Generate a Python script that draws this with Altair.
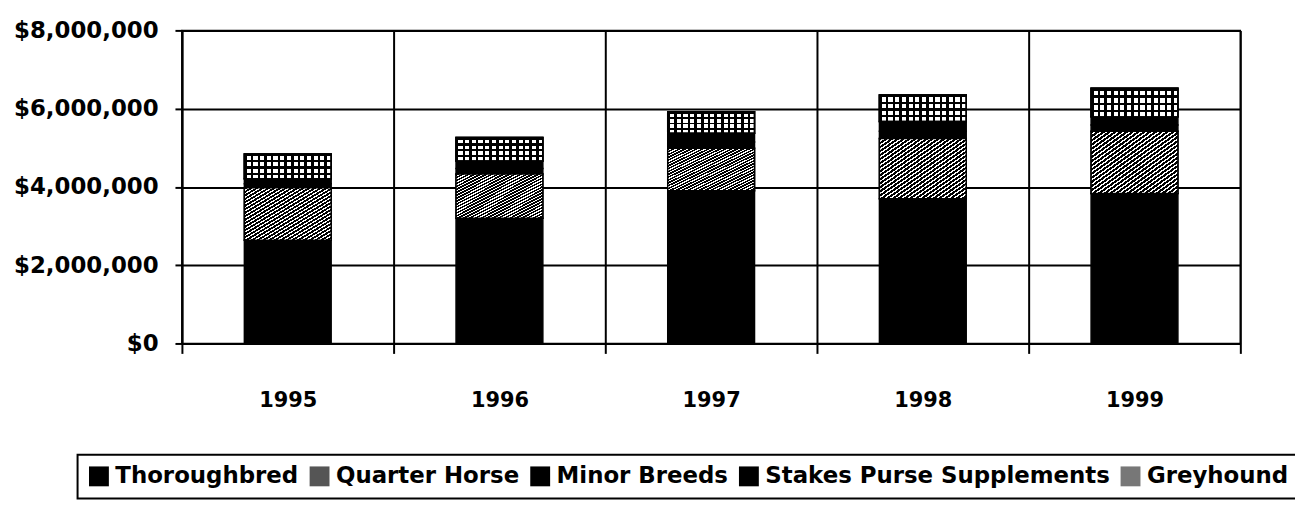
import altair as alt
import pandas as pd

years = ["1995", "1996", "1997", "1998", "1999"]
series = ["Thoroughbred", "Quarter Horse", "Minor Breeds", "Stakes Purse Supplements", "Greyhound"]
thoroughbred = [2640000, 3200000, 3900000, 3700000, 3830000]
quarter_horse = [1340000, 1130000, 1090000, 1540000, 1590000]
minor_breeds = [100000, 140000, 160000, 180000, 160000]
stakes_purse = [130000, 190000, 220000, 250000, 210000]
greyhound = [630000, 600000, 550000, 680000, 730000]
y_ticks = [0, 2000000, 4000000, 6000000, 8000000]

values = [thoroughbred, quarter_horse, minor_breeds, stakes_purse, greyhound]
rows = []
for si, (name, vals) in enumerate(zip(series, values)):
    for yr, v in zip(years, vals):
        rows.append({"year": yr, "series": name, "value": v, "ord": si})
df = pd.DataFrame(rows)

FONT = "DejaVu Sans"


def stripes(n, dark_frac, dark, light, x1, y1, x2, y2):
    stops = []
    for i in range(n):
        a = i / n
        b = (i + dark_frac) / n
        c = (i + 1) / n
        stops += [
            {"offset": a, "color": dark},
            {"offset": b, "color": dark},
            {"offset": b, "color": light},
            {"offset": c, "color": light},
        ]
    return {"gradient": "linear", "x1": x1, "y1": y1, "x2": x2, "y2": y2, "stops": stops}


hatch = stripes(30, 0.6, "black", "white", 0, 0, 1, 1)
grid_v = stripes(13, 0.36, "black", "white", 0, 0, 1, 0)
grid_h = stripes(4, 0.36, "black", "rgba(0,0,0,0)", 0, 0, 0, 1)

base = alt.Chart(df).transform_stack(
    stack="value", groupby=["year"], sort=[alt.SortField("ord")], as_=["y0", "y1"]
).encode(
    x=alt.X(
        "year:N",
        scale=alt.Scale(paddingInner=0, paddingOuter=0),
        axis=alt.Axis(
            title=None, labelAngle=0, tickBand="extent", grid=True,
            gridColor="black", gridWidth=2, gridOpacity=1,
            tickColor="black", tickSize=10, tickWidth=2,
            domainColor="black", domainWidth=2,
            labelFont=FONT, labelFontSize=21, labelFontWeight="bold",
            labelColor="black", labelPadding=36,
        ),
    ),
    y=alt.Y(
        "y0:Q",
        scale=alt.Scale(domain=[0, 8000000], nice=False),
        axis=alt.Axis(
            title=None, values=y_ticks, format="$,.0f", grid=True,
            gridColor="black", gridWidth=2, gridOpacity=1,
            tickColor="black", tickSize=7, tickWidth=2,
            domainColor="black", domainWidth=2,
            labelFont=FONT, labelFontSize=23, labelFontWeight="bold",
            labelColor="black", labelPadding=17,
        ),
    ),
    y2="y1:Q",
)

bw = alt.RelativeBandSize(0.41)

legend = alt.Legend(
    orient="none", legendX=-105, legendY=427, direction="horizontal", columns=5,
    title=None, symbolType="square", symbolSize=400, symbolStrokeWidth=0,
    labelFont=FONT, labelFontSize=23, labelFontWeight="bold", labelColor="black",
    labelOffset=5, labelLimit=600,
    strokeColor="black", fillColor="white", padding=10, columnPadding=9,
)

layer_all = base.mark_bar(width=bw, stroke="black", strokeWidth=1.5).encode(
    fill=alt.Fill(
        "series:N",
        scale=alt.Scale(domain=series, range=["black", "#555555", "black", "black", "#777777"]),
        legend=legend,
    )
)
layer_qh = base.transform_filter("datum.series === 'Quarter Horse'").mark_bar(
    width=bw, fill=hatch, stroke="black", strokeWidth=1.5
)
layer_gv = base.transform_filter("datum.series === 'Greyhound'").mark_bar(
    width=bw, fill=grid_v, stroke="black", strokeWidth=1.5
)
layer_gh = base.transform_filter("datum.series === 'Greyhound'").mark_bar(
    width=bw, fill=grid_h, stroke="black", strokeWidth=1.5
)

chart = alt.layer(layer_all, layer_qh, layer_gv, layer_gh).properties(
    width=1065, height=315,
    autosize=alt.AutoSizeParams(type="none"),
    padding={"left": 175, "top": 21, "right": 55, "bottom": 157},
).configure(font=FONT).configure_view(
    stroke="black", strokeWidth=1.5
).configure_legend(strokeWidth=2)

chart.save("out.html", embed_options={"renderer": "svg", "actions": False})
